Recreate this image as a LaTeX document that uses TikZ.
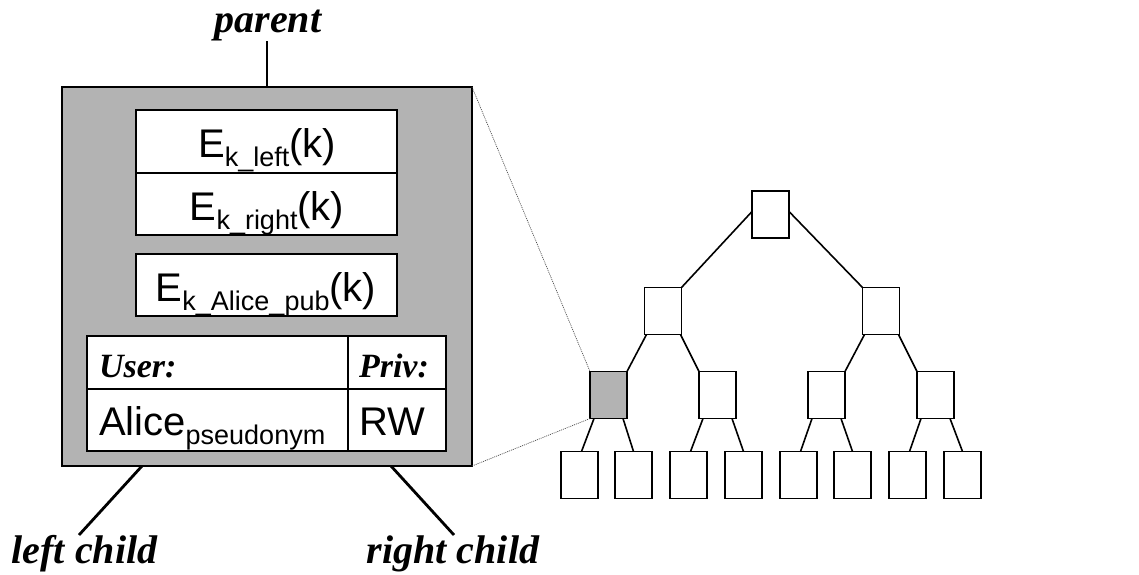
\documentclass[tikz,border=0pt]{standalone}
\usepackage{fontspec}
\setmainfont{Liberation Sans}
\newfontfamily\tms{Liberation Serif}
\newcommand{\lowsub}[1]{\raisebox{-9pt}{\fontsize{27}{27}\selectfont #1}}
\begin{document}
\begin{tikzpicture}[x=1pt,y=-1pt,
  every node/.style={inner sep=0pt,outer sep=0pt},
  bigbox/.style={draw,line width=1.5pt,fill=shade,minimum width=410pt,minimum height=379pt},
  cell/.style={draw,line width=1.2pt,fill=white},
  txt/.style={anchor=base,font=\fontsize{40}{40}\selectfont},
  hdr/.style={anchor=base west,font=\tms\bfseries\itshape\fontsize{34}{34}\selectfont},
  lab/.style={anchor=base,font=\tms\bfseries\itshape\fontsize{40}{40}\selectfont},
  thick link/.style={line width=2.8pt},
  treenode/.style={draw,line width=1.4pt,fill=white,minimum width=37pt,minimum height=47pt},
  edge/.style={line width=1.6pt},
  zoomline/.style={draw=black!70,line width=0.7pt,dash pattern=on 1pt off 1pt}]
\definecolor{shade}{RGB}{179,179,179}
\useasboundingbox (0,0) rectangle (1139,574);

% enlarged node with its contents
\node[bigbox] (big) at (267,276.5) {};
\node[cell,minimum width=261pt,minimum height=63pt] (kl) at (266.5,141.5) {};
\node[cell,minimum width=261pt,minimum height=62pt] (kr) at (266.5,204) {};
\node[cell,minimum width=261pt,minimum height=62pt] (kp) at (266.5,285) {};
\node[txt] at (267,157) {E\lowsub{k\_left}(k)};
\node[txt] at (267,220) {E\lowsub{k\_right}(k)};
\node[txt] at (266,301) {E\lowsub{k\_Alice\_pub}(k)};

% access table
\node[cell,minimum width=261pt,minimum height=53pt] (uh) at (217.5,362.5) {};
\node[cell,minimum width=98pt,minimum height=53pt] (ph) at (397,362.5) {};
\node[cell,minimum width=261pt,minimum height=62pt] (uv) at (217.5,420) {};
\node[cell,minimum width=98pt,minimum height=62pt] (pv) at (397,420) {};
\node[hdr] at (99,377) {User:};
\node[hdr] at (359,377) {Priv:};
\node[txt,anchor=base west] at (99,435) {Alice\lowsub{pseudonym}};
\node[txt,anchor=base west] at (359,435) {RW};

% links to parent and children
\node[lab] (parent) at (268,32) {parent};
\coordinate (pt) at (267,41);
\draw[thick link] (big.north) -- (pt);
\node[lab] (lc) at (84.5,563) {left child};
\node[lab] (rc) at (453,563) {right child};
\coordinate (lce) at (79,535);
\coordinate (rce) at (454,535);
\draw[thick link] ([xshift=80pt]big.south west) -- (lce);
\draw[thick link] ([xshift=-81pt]big.south east) -- (rce);

% binary tree
\node[treenode] (r) at (770.5,214.5) {};
\node[treenode] (a) at (663,311) {};
\node[treenode] (b) at (881,311) {};
\node[treenode,fill=shade] (g) at (608.5,395) {};
\node[treenode] (c) at (717.5,395) {};
\node[treenode] (d) at (826.5,395) {};
\node[treenode] (e) at (935.5,395) {};
\foreach \i/\x in {1/579.5,2/633.5,3/688.5,4/743.5,5/798.5,6/852.5,7/907.5,8/962.5}
  \node[treenode] (l\i) at (\x,475) {};

\draw[edge] ([yshift=3pt]r.west) -- (a.north east);
\draw[edge] ([yshift=3pt]r.east) -- (b.north west);
\draw[edge] ([xshift=2pt]a.south west) -- (g.north east);
\draw[edge] ([xshift=-1pt]a.south east) -- (c.north west);
\draw[edge] ([xshift=2pt]b.south west) -- (d.north east);
\draw[edge] ([xshift=-1pt]b.south east) -- (e.north west);
\foreach \p/\u/\v in {g/1/2,c/3/4,d/5/6,e/7/8}{
  \draw[edge] ([xshift=4pt]\p.south west) -- ([xshift=2pt]l\u.north);
  \draw[edge] ([xshift=-4pt]\p.south east) -- ([xshift=0pt]l\v.north);
}

% zoom indication
\draw[zoomline] (big.north east) -- (g.north west);
\draw[zoomline] (big.south east) -- (g.south west);
\end{tikzpicture}
\end{document}
